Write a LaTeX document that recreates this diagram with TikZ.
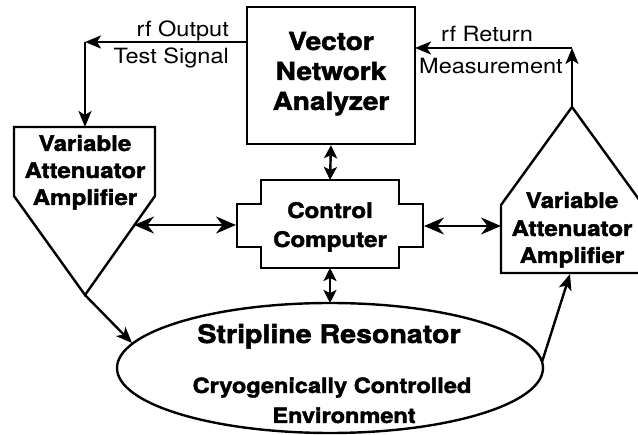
\documentclass[tikz,border=0pt]{standalone}
\usepackage{fontspec}
\setmainfont{TeX Gyre Heros}[FakeStretch=1.12, BoldFont={TeX Gyre Heros Bold}, BoldFeatures={FakeBold=2}]
\usetikzlibrary{arrows.meta,shapes.geometric}
\begin{document}
\begin{tikzpicture}[x=1pt,y=-1pt, line width=2.4pt, line join=miter,
  tip/.tip={Stealth[length=16pt,width=13pt,inset=4pt]},
  vtip/.tip={Stealth[length=13pt,width=13pt,inset=3pt]},
  htip/.tip={Stealth[length=20pt,width=17pt,inset=6.5pt]},
  arr/.style={-tip},
  vdarr/.style={vtip-vtip},
  hdarr/.style={htip-htip, line width=1.8pt},
  lbl/.style={font=\fontsize{21}{24}\selectfont, anchor=base, inner sep=0pt},
  vnatxt/.style={font=\bfseries\fontsize{25}{30}\selectfont, anchor=base, inner sep=0pt},
  amptxt/.style={font=\bfseries\fontsize{21.5}{27}\selectfont, anchor=base, inner sep=0pt},
  restxt/.style={font=\bfseries\fontsize{25.5}{30}\selectfont, anchor=base, inner sep=0pt},
  envtxt/.style={font=\bfseries\fontsize{21}{30}\selectfont, anchor=base, inner sep=0pt}
]
\useasboundingbox (0,0) rectangle (638,435);

% Vector Network Analyzer
\node (vna) [draw, rectangle, minimum width=168pt, minimum height=137pt, inner sep=0pt] at (331,75.5) {};
\node (vna1) [vnatxt] at (331,50) {Vector};
\node (vna2) [vnatxt] at (331,80) {Network};
\node (vna3) [vnatxt] at (331,110) {Analyzer};

% Left amplifier (pointing down)
\draw (14,127) coordinate (la-tl) -- (155,127) coordinate (la-tr) -- (155,196) -- (85,295) coordinate (la-apex) -- (14,196) -- cycle;
\node (la1) [amptxt] at (85,151) {Variable};
\node (la2) [amptxt] at (85,178) {Attenuator};
\node (la3) [amptxt] at (85,205) {Amplifier};
\coordinate (la-side) at (134,225);

% Right amplifier (pointing up), clipped at the right edge
\begin{scope}
\clip (0,0) rectangle (638,435);
\draw (501,273) -- (501,205) -- (572,107) coordinate (ra-apex) -- (643,205) -- (643,273) -- cycle;
\end{scope}
\coordinate (ra-left) at (501,226);
\coordinate (ra-bot) at (570,274);
\node (ra1) [amptxt] at (572,208) {Variable};
\node (ra2) [amptxt] at (572,236) {Attenuator};
\node (ra3) [amptxt] at (572,263) {Amplifier};

% Control computer
\draw (261,180) coordinate (cc-top) -- (399,180) -- (399,204) -- (423,204) -- (423,247) -- (399,247) -- (399,268) -- (261,268) -- (261,247) -- (237,247) -- (237,204) -- (261,204) -- cycle;
\coordinate (cc-n) at (330,180);
\coordinate (cc-s) at (330,268);
\coordinate (cc-w) at (236,225);
\coordinate (cc-e) at (424,226);
\node (cc1) [amptxt] at (330,218) {Control};
\node (cc2) [amptxt] at (330,247) {Computer};

% Stripline resonator
\node (res) [draw, ellipse, minimum width=426pt, minimum height=130pt, inner sep=0pt] at (330,368) {};
\coordinate (res-n) at (330,303);
\coordinate (res-in) at (132,343);
\coordinate (res-out) at (542,362);
\node (res1) [restxt] at (329,343) {Stripline Resonator};
\node (res2) [envtxt] at (332,393) {Cryogenically Controlled};
\node (res3) [envtxt] at (344,423) {Environment};

% rf output path
\coordinate (out-corner) at (85,42);
\coordinate (vna-w) at (247,42);
\draw[arr] (vna-w) -- (out-corner);
\draw[arr] (out-corner) -- (la-apex |- la-tl);
\node (o1) [lbl, anchor=base east] at (230,37) {rf Output};
\node (o2) [lbl, anchor=base east] at (230,64) {Test Signal};

% rf return path
\coordinate (ret-corner) at (572,48);
\coordinate (vna-e) at (415,48);
\draw[arr] (ra-apex) -- (ret-corner);
\draw[arr] (ret-corner) -- (vna-e);
\node (r1) [lbl, anchor=base west] at (440,42) {rf Return};
\node (r2) [lbl, anchor=base west] at (418,74) {Measurement};

% links
\draw[vdarr] (vna.south) -- (cc-n);
\draw[vdarr] (cc-s) -- (res-n);
\draw[hdarr] (la-side) -- (cc-w);
\draw[hdarr] (cc-e) -- (ra-left);
\draw[arr] (la-apex) -- (res-in);
\draw[arr] (res-out) -- (ra-bot);
\end{tikzpicture}
\end{document}
